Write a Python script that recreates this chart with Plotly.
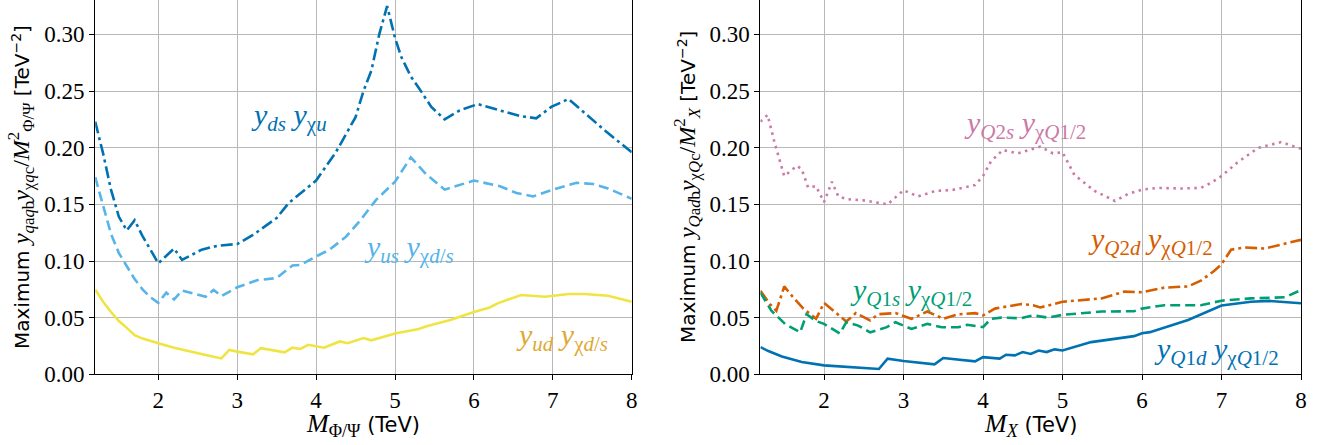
import plotly.graph_objects as go

# ---------------- data ----------------
# Left panel: M_Phi/Psi (TeV)
yds_x = [1.2, 1.3, 1.4, 1.5, 1.6, 1.7, 1.8, 1.9, 2.0, 2.2, 2.3, 2.55, 2.75, 3.0, 3.2, 3.5, 3.65, 4.0,
         4.25, 4.5, 4.6, 4.7, 4.8, 4.9, 5.0, 5.08, 5.2, 5.3, 5.46, 5.63, 5.82, 6.05, 6.33, 6.58, 6.79,
         6.98, 7.2, 7.43, 7.68, 8.0]
yds_y = [0.223, 0.195, 0.163, 0.139, 0.127, 0.136, 0.122, 0.110, 0.098, 0.111, 0.101, 0.110, 0.1135,
         0.115, 0.123, 0.138, 0.151, 0.171, 0.196, 0.227, 0.250, 0.268, 0.300, 0.325, 0.297, 0.280,
         0.263, 0.253, 0.236, 0.225, 0.233, 0.2385, 0.233, 0.228, 0.226, 0.236, 0.243, 0.229, 0.214,
         0.196]

yus_x = [1.2, 1.3, 1.4, 1.5, 1.6, 1.7, 1.8, 1.9, 2.0, 2.1, 2.2, 2.3, 2.6, 2.7, 2.8, 3.0, 3.25, 3.5,
         3.7, 3.8, 4.0, 4.17, 4.38, 4.55, 4.76, 5.0, 5.2, 5.39, 5.63, 5.82, 6.0, 6.33, 6.54, 6.75,
         7.0, 7.3, 7.51, 7.7, 8.0]
yus_y = [0.174, 0.148, 0.124, 0.107, 0.095, 0.084, 0.075, 0.068, 0.063, 0.072, 0.066, 0.074, 0.0685,
         0.0745, 0.069, 0.0768, 0.083, 0.085, 0.096, 0.0965, 0.104, 0.110, 0.1215, 0.135, 0.154,
         0.170, 0.1915, 0.177, 0.163, 0.167, 0.171, 0.166, 0.160, 0.157, 0.163, 0.169, 0.168, 0.164,
         0.155]

yud_x = [1.2, 1.3, 1.4, 1.5, 1.6, 1.7, 1.8, 1.9, 2.0, 2.2, 2.4, 2.6, 2.8, 2.9, 3.0, 3.2, 3.3, 3.6,
         3.7, 3.8, 3.9, 4.1, 4.3, 4.4, 4.6, 4.7, 5.0, 5.3, 5.4, 5.6, 5.7, 6.0, 6.2, 6.3, 6.4, 6.6,
         6.9, 7.0, 7.2, 7.4, 7.7, 8.0]
yud_y = [0.075, 0.064, 0.055, 0.047, 0.041, 0.0345, 0.0315, 0.0292, 0.0274, 0.0235, 0.020, 0.017,
         0.014, 0.0215, 0.020, 0.0176, 0.023, 0.0194, 0.0235, 0.0224, 0.026, 0.0235, 0.029, 0.0274,
         0.032, 0.030, 0.036, 0.040, 0.0425, 0.0465, 0.048, 0.055, 0.059, 0.0626, 0.065, 0.070,
         0.0685, 0.0694, 0.0709, 0.0709, 0.0694, 0.064]

# Right panel: M_X (TeV)
q2s_x = [1.2, 1.29, 1.38, 1.5, 1.66, 1.72, 1.8, 1.9, 2.0, 2.1, 2.18, 2.3, 2.5, 2.8, 3.0, 3.18, 3.41,
         3.6, 3.9, 4.0, 4.1, 4.25, 4.44, 4.72, 4.88, 5.0, 5.15, 5.4, 5.66, 5.82, 6.0, 6.2, 6.49,
         6.74, 6.87, 7.0, 7.2, 7.46, 7.75, 8.0]
q2s_y = [0.223, 0.229, 0.204, 0.175, 0.184, 0.181, 0.165, 0.166, 0.152, 0.170, 0.157, 0.1545,
         0.1535, 0.150, 0.1625, 0.157, 0.162, 0.1625, 0.167, 0.175, 0.188, 0.198, 0.195, 0.201,
         0.195, 0.196, 0.176, 0.162, 0.153, 0.159, 0.163, 0.1645, 0.164, 0.1645, 0.169, 0.175,
         0.187, 0.1998, 0.205, 0.199]

q2d_x = [1.2, 1.32, 1.4, 1.5, 1.6, 1.74, 1.9, 2.0, 2.14, 2.28, 2.4, 2.58, 2.68, 2.9, 3.1, 3.3, 3.5,
         3.69, 3.9, 4.0, 4.15, 4.48, 4.63, 4.72, 5.0, 5.49, 5.78, 6.0, 6.28, 6.58, 6.74, 6.91, 7.0,
         7.12, 7.29, 7.54, 8.0]
q2d_y = [0.0738, 0.062, 0.056, 0.0776, 0.069, 0.058, 0.049, 0.063, 0.055, 0.0466, 0.054, 0.0475,
         0.053, 0.054, 0.049, 0.0554, 0.049, 0.053, 0.054, 0.052, 0.058, 0.062, 0.061, 0.059, 0.064,
         0.067, 0.073, 0.0724, 0.0765, 0.0776, 0.0826, 0.0914, 0.097, 0.110, 0.112, 0.111, 0.1187]

q1s_x = [1.2, 1.34, 1.51, 1.7, 1.78, 1.9, 2.0, 2.2, 2.28, 2.43, 2.58, 2.79, 2.9, 3.1, 3.3, 3.48,
         3.69, 3.8, 4.0, 4.1, 4.23, 4.48, 4.63, 4.82, 5.0, 5.49, 5.9, 6.0, 6.28, 6.74, 7.0, 7.37,
         7.8, 8.0]
q1s_y = [0.072, 0.056, 0.0445, 0.037, 0.053, 0.047, 0.0445, 0.036, 0.046, 0.043, 0.037, 0.0416,
         0.046, 0.040, 0.0445, 0.0416, 0.0416, 0.0437, 0.0416, 0.049, 0.050, 0.0495, 0.052, 0.050,
         0.0525, 0.0554, 0.0557, 0.058, 0.061, 0.061, 0.065, 0.067, 0.068, 0.0744]

q1d_x = [1.2, 1.3, 1.47, 1.6, 1.72, 2.0, 2.2, 2.39, 2.69, 2.8, 3.0, 3.39, 3.5, 3.9, 4.0, 4.21, 4.29,
         4.4, 4.5, 4.6, 4.7, 4.8, 4.9, 5.0, 5.36, 5.9, 6.0, 6.1, 6.58, 7.0, 7.37, 7.6, 8.0]
q1d_y = [0.024, 0.0205, 0.0158, 0.013, 0.0108, 0.0079, 0.0068, 0.0059, 0.0047, 0.0138, 0.0117,
         0.0088, 0.0144, 0.0114, 0.0152, 0.0138, 0.0173, 0.0167, 0.0196, 0.018, 0.021, 0.0196,
         0.022, 0.021, 0.0284, 0.0337, 0.0363, 0.0372, 0.048, 0.0607, 0.064, 0.0648, 0.0627]

x_ticks = [2, 3, 4, 5, 6, 7, 8]
x_tick_labels = ["2", "3", "4", "5", "6", "7", "8"]
y_ticks = [0.00, 0.05, 0.10, 0.15, 0.20, 0.25, 0.30]
y_tick_labels = ["0.00", "0.05", "0.10", "0.15", "0.20", "0.25", "0.30"]

# ---------------- styling ----------------
SERIF = "Liberation Serif"
SERIF_CSS = "'Liberation Serif', 'DejaVu Serif', serif"
SANS = "DejaVu Sans"
DASHDOT = "12px,4px,3px,4px"
DASH = "10px,5px"
DOT = "2.5px,4.5px"
LW = 2.6


def m(s, size=None):
    sz = f";font-size:{size}px" if size else ""
    return f"<span style=\"font-family:{SERIF_CSS}{sz}\">{s}</span>"


fig = go.Figure()

def add(x, y, color, dash, xa, ya):
    fig.add_trace(go.Scatter(x=x, y=y, mode="lines", xaxis=xa, yaxis=ya,
                             line=dict(color=color, width=LW, dash=dash),
                             showlegend=False, hoverinfo="skip"))

add(yds_x, yds_y, "#0072B2", DASHDOT, "x", "y")
add(yus_x, yus_y, "#56B4E9", DASH, "x", "y")
add(yud_x, yud_y, "#F0E442", "solid", "x", "y")

add(q2s_x, q2s_y, "#CC79A7", DOT, "x2", "y2")
add(q2d_x, q2d_y, "#D55E00", DASHDOT, "x2", "y2")
add(q1s_x, q1s_y, "#009E73", DASH, "x2", "y2")
add(q1d_x, q1d_y, "#0072B2", "solid", "x2", "y2")

W, H = 1329, 445
ydom = [(H - 374.3) / H, 0.999]
xdom1 = [95.2 / W, 631.7 / W]
xdom2 = [760.4 / W, 1301.0 / W]

axis_common = dict(
    showline=True, linecolor="black", linewidth=1.2, mirror=True,
    ticks="outside", ticklen=5, tickwidth=1.1, tickcolor="black",
    showgrid=True, gridcolor="#b8b8b8", gridwidth=1,
    zeroline=False, automargin=False,
    tickfont=dict(family=SERIF, size=23, color="black"),
)
xt = [m(t) for t in x_tick_labels]
yt = [m(t) for t in y_tick_labels]

fig.update_layout(
    width=W, height=H,
    margin=dict(l=0, r=0, t=0, b=0),
    paper_bgcolor="white", plot_bgcolor="white",
    xaxis=dict(domain=xdom1, range=[1.2, 8], tickvals=x_ticks, ticktext=xt, anchor="y",
               **axis_common),
    yaxis=dict(domain=ydom, range=[0, 0.33], tickvals=y_ticks, ticktext=yt, anchor="x",
               **axis_common),
    xaxis2=dict(domain=xdom2, range=[1.2, 8], tickvals=x_ticks, ticktext=xt, anchor="y2",
                **axis_common),
    yaxis2=dict(domain=ydom, range=[0, 0.33], tickvals=y_ticks, ticktext=yt, anchor="x2",
                **axis_common),
)

ann = []
# axis titles
ytitle1 = ("Maximum " + m("<i>y</i><sub><i>q</i>a<i>q</i>b</sub><i>y</i><sub>χ<i>q</i>c</sub>/<i>M</i>"
           "<sup>2</sup><sub>Φ/Ψ</sub>", 24) + " [TeV<sup>−2</sup>]")
ytitle2 = ("Maximum " + m("<i>y</i><sub><i>Q</i>a<i>d</i>b</sub><i>y</i><sub>χ<i>Q</i>c</sub>/<i>M</i>"
           "<sup>2</sup><sub><i>X</i></sub>", 24) + " [TeV<sup>−2</sup>]")
xtitle1 = m("<i>M</i><sub>Φ/Ψ</sub>", 26) + " (TeV)"
xtitle2 = m("<i>M</i><sub><i>X</i></sub>", 26) + " (TeV)"

yc = 1 - 187 / H
ann.append(dict(text=ytitle1, x=21 / W, y=yc, xref="paper", yref="paper", textangle=-90,
                showarrow=False, font=dict(family=SANS, size=20, color="black"),
                xanchor="center", yanchor="middle"))
ann.append(dict(text=ytitle2, x=687 / W, y=yc, xref="paper", yref="paper", textangle=-90,
                showarrow=False, font=dict(family=SANS, size=20, color="black"),
                xanchor="center", yanchor="middle"))
ann.append(dict(text=xtitle1, x=(xdom1[0] + xdom1[1]) / 2, y=1 - 425 / H, xref="paper",
                yref="paper", showarrow=False, font=dict(family=SANS, size=21, color="black"),
                xanchor="center", yanchor="middle"))
ann.append(dict(text=xtitle2, x=(xdom2[0] + xdom2[1]) / 2, y=1 - 425 / H, xref="paper",
                yref="paper", showarrow=False, font=dict(family=SANS, size=21, color="black"),
                xanchor="center", yanchor="middle"))

# curve labels
def lab(text, x, y, color, xa, ya):
    ann.append(dict(text=m(text), x=x, y=y, xref=xa, yref=ya, showarrow=False,
                    font=dict(family=SERIF, size=30, color=color),
                    xanchor="center", yanchor="middle"))

lab("<i>y</i><sub><i>ds</i></sub> <i>y</i><sub>χ<i>u</i></sub>", 3.66, 0.227, "#0072B2", "x", "y")
lab("<i>y</i><sub><i>us</i></sub> <i>y</i><sub>χ<i>d</i>/<i>s</i></sub>", 5.18, 0.111, "#56B4E9", "x", "y")
lab("<i>y</i><sub><i>ud</i></sub> <i>y</i><sub>χ<i>d</i>/<i>s</i></sub>", 7.12, 0.033, "#DDAA33", "x", "y")

lab("<i>y</i><sub><i>Q</i>2<i>s</i></sub> <i>y</i><sub>χ<i>Q</i>1/2</sub>", 4.53, 0.220, "#CC79A7", "x2", "y2")
lab("<i>y</i><sub><i>Q</i>2<i>d</i></sub> <i>y</i><sub>χ<i>Q</i>1/2</sub>", 6.11, 0.1175, "#D55E00", "x2", "y2")
lab("<i>y</i><sub><i>Q</i>1<i>s</i></sub> <i>y</i><sub>χ<i>Q</i>1/2</sub>", 3.10, 0.073, "#009E73", "x2", "y2")
lab("<i>y</i><sub><i>Q</i>1<i>d</i></sub> <i>y</i><sub>χ<i>Q</i>1/2</sub>", 6.94, 0.0205, "#0072B2", "x2", "y2")

fig.update_layout(annotations=ann)
fig.write_html("out.html", config={"displayModeBar": False},
               post_script="document.body.style.margin='0px';")
